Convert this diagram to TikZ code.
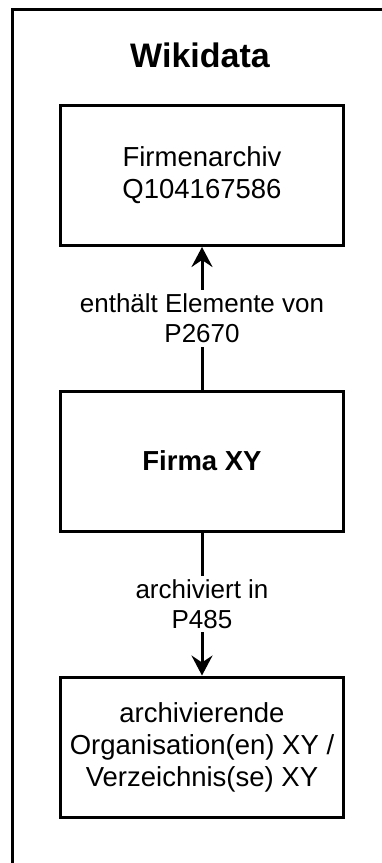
\documentclass[tikz,border=0pt]{standalone}
\usepackage{fontspec}
\setmainfont{Liberation Sans}
\usetikzlibrary{arrows.meta}
\newcommand{\boxlw}{3pt}
\newcommand{\txtsize}{\fontsize{27.5}{32}\selectfont}
\newcommand{\relsize}{\fontsize{26}{30.5}\selectfont}

\begin{document}
\begin{tikzpicture}[x=1pt,y=-1pt]
    %\draw[help lines] (0,0) grid (382,863);
        \def\mx{202}
        \tikzset{item/.style = {draw, line width=\boxlw, minimum width=283pt, minimum height=140pt, align=center, font=\txtsize}}
        \tikzset{rel/.style = {fill=white, align=center, inner sep=3.5pt, font=\relsize}}
        \tikzset{link/.style = {line width=\boxlw, -{Stealth[length=20pt,width=21pt,inset=7pt]}}}
        \useasboundingbox (0,0) rectangle (382,863);
        \draw[line width=\boxlw] (12.5,9.5) rectangle (420,900);
        \node[font=\bfseries\fontsize{34}{40}\selectfont] (wd) at (200,55) {Wikidata};
        \node[item] (archiv) at (\mx,175.5) {Firmenarchiv\\Q104167586};
        \node[item,font=\bfseries\txtsize] (firma) at (\mx,461) {Firma XY};
        \node[item] (orga) at (\mx,747) {archivierende\\Organisation(en) XY /\\Verzeichnis(se) XY};


        \draw[link] (firma) -- node[rel] {enthält Elemente von\\P2670} (archiv);
        \draw[link] (firma) -- node[rel] {archiviert in\\P485} (orga);


    \end{tikzpicture}
\end{document}
